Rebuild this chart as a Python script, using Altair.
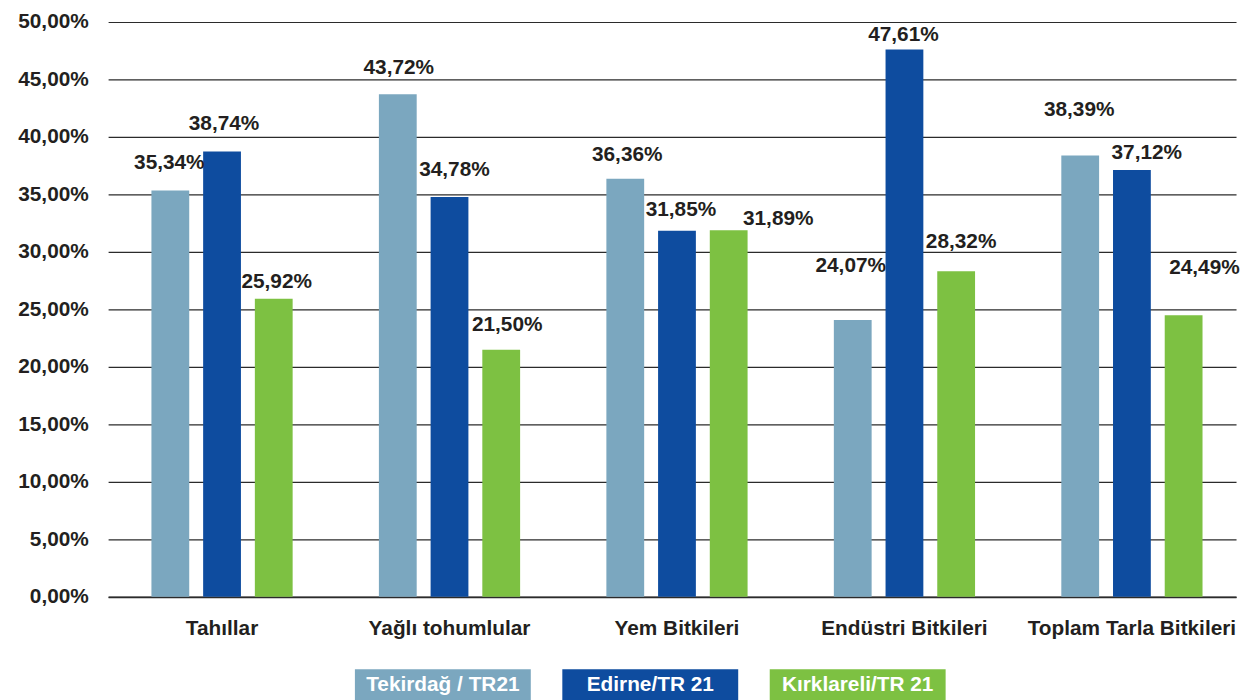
import altair as alt
import pandas as pd

categories = ["Tahıllar", "Yağlı tohumlular", "Yem Bitkileri", "Endüstri Bitkileri", "Toplam Tarla Bitkileri"]
series = ["Tekirdağ / TR21", "Edirne/TR 21", "Kırklareli/TR 21"]
tekirdag = [35.34, 43.72, 36.36, 24.07, 38.39]
edirne = [38.74, 34.78, 31.85, 47.61, 37.12]
kirklareli = [25.92, 21.50, 31.89, 28.32, 24.49]
colors = ["#7BA7BF", "#0E4C9F", "#7DC142"]
y_ticks = [0, 5, 10, 15, 20, 25, 30, 35, 40, 45, 50]

# label nudges in pixels (style only, as the labels were moved by hand in the original)
label_dx = {
    "Tekirdağ / TR21": [-1, 1, 2, -2, -1],
    "Edirne/TR 21": [2, 5, 4, -1, 15],
    "Kırklareli/TR 21": [3, 6, 50, 5, 21],
}
label_gap = {
    "Tekirdağ / TR21": [28, 26, 24, 55, 46],
    "Edirne/TR 21": [28, 27, 21, 15, 17],
    "Kırklareli/TR 21": [17, 25, 11, 29, 48],
}

rows = []
for s, vals in zip(series, [tekirdag, edirne, kirklareli]):
    for i, (c, v) in enumerate(zip(categories, vals)):
        rows.append({"cat": c, "series": s, "value": v,
                     "label": f"{v:.2f}%".replace(".", ","),
                     "ldx": label_dx[s][i], "ldy": -label_gap[s][i]})
df = pd.DataFrame(rows)

FONT = "Liberation Sans"
TXT = "#231F20"

xenc = alt.X("cat:N", sort=categories, title=None,
             scale=alt.Scale(paddingInner=0.318, paddingOuter=0.1383, align=0.578),
             axis=alt.Axis(labelAngle=0, ticks=False, labelPadding=21, labelLimit=400,
                           labelFont=FONT, labelFontSize=21, labelFontWeight="bold",
                           labelColor=TXT, domainColor="#2b2b2b", domainWidth=1.6))
xoff = alt.XOffset("series:N", sort=series,
                   scale=alt.Scale(paddingInner=0.269, paddingOuter=0.1346))
yenc = alt.Y("value:Q", title=None,
             scale=alt.Scale(domain=[0, 50], nice=False),
             axis=alt.Axis(values=y_ticks, domain=False, ticks=False, labelPadding=20,
                           labelExpr="replace(format(datum.value, '.2f'), '.', ',') + '%'",
                           labelFont=FONT, labelFontSize=21, labelFontWeight="bold",
                           labelColor=TXT, gridColor="#2b2b2b", gridWidth=1.2,
                           gridOpacity=1))
color = alt.Color("series:N", sort=series,
                  scale=alt.Scale(domain=series, range=colors), legend=None)

bars = alt.Chart(df).mark_bar().encode(x=xenc, xOffset=xoff, y=yenc, color=color)
labels = alt.Chart(df).mark_text(font=FONT, fontSize=21, fontWeight="bold", color=TXT,
                                 baseline="middle",
                                 dx=alt.expr("datum.ldx"), dy=alt.expr("datum.ldy")).encode(
    x=alt.X("cat:N", sort=categories), xOffset=alt.XOffset("series:N", sort=series),
    y="value:Q", text="label:N")

main = alt.layer(bars, labels).properties(width=1138, height=580)

leg_df = pd.DataFrame({"series": series})
leg_x = alt.X("series:N", sort=series, title=None, axis=None,
              scale=alt.Scale(range=[249, 845], paddingInner=0.152, paddingOuter=0))
leg_rect = alt.Chart(leg_df).mark_rect().encode(
    x=leg_x,
    color=alt.Color("series:N", sort=series,
                    scale=alt.Scale(domain=series, range=colors), legend=None))
leg_text = alt.Chart(leg_df).mark_text(font=FONT, fontSize=21, fontWeight="bold",
                                       color="white", baseline="middle").encode(
    x=leg_x, text="series:N")
legend = alt.layer(leg_rect, leg_text).properties(width=1138, height=32)

chart = alt.vconcat(main, legend, spacing=31).properties(
    padding={"left": 9, "top": 0, "right": 0, "bottom": 0}
).resolve_scale(color="independent", x="independent").configure_view(stroke=None)

chart.save("out.html", embed_options={"renderer": "svg", "actions": False})
